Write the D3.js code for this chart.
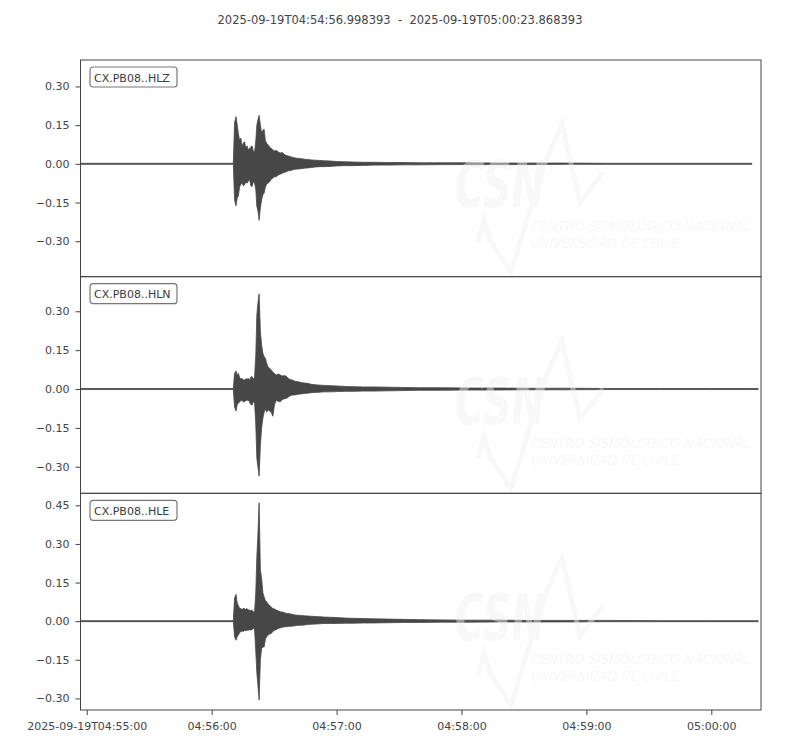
<!DOCTYPE html>
<html>
<head>
<meta charset="utf-8">
<script src="https://cdn.jsdelivr.net/npm/d3@7"></script>
<style>
    body { margin: 0; background: #ffffff; }
    svg { font-family: "DejaVu Sans", sans-serif; }
</style>
</head>
<body>
<div id="root"></div>
<script>
// ---------------------------- DATA ----------------------------
const channels = ["CX.PB08..HLZ", "CX.PB08..HLN", "CX.PB08..HLE"];
const startTime = "2025-09-19T04:54:56.998393";
const endTime = "2025-09-19T05:00:23.868393";
const traceEnds = [319.5, 322.5, 322.5]; // seconds after 04:55:00 where each trace stops
const yLimits = [[-0.4375, 0.4026], [-0.4026, 0.4336], [-0.345, 0.4965]];
const yTicks = [
    [-0.30, -0.15, 0, 0.15, 0.30],
    [-0.30, -0.15, 0, 0.15, 0.30],
    [-0.30, -0.15, 0, 0.15, 0.30, 0.45]
];

// Seconds after 04:55:00, and the max / min of each trace around that time
const seconds = [
    -3.0, 70.4, 71.0, 71.7, 72.3, 72.8, 73.4, 74.0, 74.6, 75.2,
    75.8, 76.4, 77.0, 77.6, 78.2, 78.8, 79.4, 80.0, 80.6, 81.2,
    81.7, 82.2, 82.8, 83.4, 84.0, 84.6, 85.2, 85.8, 86.4, 87.0,
    87.8, 88.6, 89.4, 90.2, 91.0, 92.0, 93.0, 94.0, 95.0, 96.0,
    97.0, 98.0, 99.0, 100.0, 101.5, 103.0, 104.5, 106.0, 108.0, 110.0,
    112, 114, 117, 120, 124, 128, 133, 138, 145, 152,
    160, 170, 182, 196, 212, 230, 250, 275, 300, 319.5, 322.5
];
const hlzHigh = [
    0.002, 0.002, 0.16, 0.183, 0.15, 0.12, 0.09, 0.10, 0.07, 0.08,
    0.086, 0.06, 0.07, 0.054, 0.06, 0.065, 0.07, 0.05, 0.045, 0.09,
    0.15, 0.17, 0.188, 0.15, 0.12, 0.13, 0.134, 0.09, 0.08, 0.075,
    0.065, 0.06, 0.054, 0.05, 0.052, 0.046, 0.042, 0.044, 0.036, 0.032,
    0.03, 0.027, 0.025, 0.023, 0.021, 0.02, 0.018, 0.017, 0.015, 0.014,
    0.013, 0.012, 0.011, 0.009, 0.008, 0.007, 0.006, 0.006, 0.005, 0.005,
    0.004, 0.004, 0.004, 0.003, 0.003, 0.003, 0.002, 0.002, 0.002, 0.002, 0.002
];
const hlzLow = [
    -0.002, -0.002, -0.14, -0.163, -0.13, -0.127, -0.09, -0.08, -0.074, -0.085,
    -0.081, -0.07, -0.075, -0.068, -0.06, -0.085, -0.088, -0.07, -0.074, -0.10,
    -0.165, -0.18, -0.219, -0.17, -0.139, -0.12, -0.113, -0.09, -0.08, -0.075,
    -0.07, -0.06, -0.055, -0.05, -0.05, -0.043, -0.04, -0.036, -0.034, -0.03,
    -0.027, -0.026, -0.023, -0.021, -0.02, -0.019, -0.017, -0.016, -0.014, -0.012,
    -0.011, -0.011, -0.01, -0.008, -0.007, -0.007, -0.006, -0.005, -0.005, -0.004,
    -0.004, -0.003, -0.003, -0.003, -0.003, -0.002, -0.002, -0.002, -0.002, -0.002, -0.002
];
const hlnHigh = [
    0.002, 0.002, 0.06, 0.07, 0.05, 0.061, 0.045, 0.04, 0.041, 0.035,
    0.035, 0.04, 0.038, 0.041, 0.035, 0.045, 0.048, 0.04, 0.045, 0.132,
    0.286, 0.33, 0.367, 0.222, 0.17, 0.138, 0.125, 0.119, 0.10, 0.086,
    0.08, 0.074, 0.065, 0.06, 0.054, 0.058, 0.054, 0.05, 0.052, 0.048,
    0.04, 0.036, 0.034, 0.03, 0.028, 0.025, 0.023, 0.022, 0.018, 0.016,
    0.015, 0.014, 0.013, 0.012, 0.01, 0.009, 0.008, 0.008, 0.007, 0.006,
    0.005, 0.005, 0.004, 0.004, 0.003, 0.003, 0.002, 0.002, 0.002, 0.002, 0.002
];
const hlnLow = [
    -0.002, -0.002, -0.07, -0.085, -0.06, -0.055, -0.05, -0.045, -0.043, -0.05,
    -0.049, -0.045, -0.043, -0.043, -0.05, -0.06, -0.062, -0.05, -0.05, -0.139,
    -0.267, -0.30, -0.336, -0.217, -0.15, -0.113, -0.09, -0.075, -0.09, -0.08,
    -0.085, -0.09, -0.105, -0.06, -0.043, -0.048, -0.049, -0.04, -0.038, -0.036,
    -0.03, -0.025, -0.023, -0.023, -0.02, -0.019, -0.017, -0.016, -0.014, -0.013,
    -0.012, -0.011, -0.011, -0.01, -0.009, -0.009, -0.008, -0.008, -0.007, -0.006,
    -0.005, -0.005, -0.004, -0.004, -0.003, -0.003, -0.002, -0.002, -0.002, -0.002, -0.002
];
const hleHigh = [
    0.002, 0.002, 0.09, 0.104, 0.07, 0.062, 0.05, 0.049, 0.045, 0.05,
    0.049, 0.045, 0.049, 0.043, 0.043, 0.04, 0.043, 0.036, 0.036, 0.114,
    0.25, 0.334, 0.46, 0.20, 0.166, 0.11, 0.094, 0.08, 0.075, 0.068,
    0.062, 0.055, 0.049, 0.047, 0.043, 0.04, 0.036, 0.036, 0.033, 0.03,
    0.03, 0.028, 0.026, 0.024, 0.023, 0.022, 0.021, 0.02, 0.019, 0.018,
    0.017, 0.016, 0.015, 0.014, 0.012, 0.011, 0.01, 0.009, 0.008, 0.007,
    0.006, 0.005, 0.004, 0.004, 0.003, 0.003, 0.003, 0.002, 0.002, 0.002, 0.002
];
const hleLow = [
    -0.002, -0.002, -0.06, -0.074, -0.06, -0.054, -0.045, -0.041, -0.038, -0.04,
    -0.035, -0.037, -0.035, -0.035, -0.033, -0.035, -0.032, -0.028, -0.03, -0.119,
    -0.20, -0.248, -0.306, -0.15, -0.106, -0.10, -0.10, -0.07, -0.061, -0.055,
    -0.05, -0.048, -0.04, -0.035, -0.033, -0.028, -0.026, -0.024, -0.022, -0.022,
    -0.02, -0.02, -0.019, -0.018, -0.016, -0.016, -0.015, -0.013, -0.012, -0.011,
    -0.01, -0.009, -0.009, -0.009, -0.008, -0.008, -0.007, -0.007, -0.006, -0.005,
    -0.005, -0.004, -0.004, -0.003, -0.003, -0.003, -0.002, -0.002, -0.002, -0.002, -0.002
];
const highs = [hlzHigh, hlnHigh, hleHigh];
const lows = [hlzLow, hlnLow, hleLow];

// ---------------------------- LAYOUT ----------------------------
const width = 800;
const height = 750;
const plotLeft = 80.5;
const plotRight = 761;
const plotTop = 60;
const plotBottom = 710;
const panelHeight = (plotBottom - plotTop) / channels.length;
const traceColour = "#474747";
const axisColour = "#444444";
const markColour = "#f0f0f0";

const baseTime = Date.UTC(2025, 8, 19, 4, 55, 0);
const toDate = s => new Date(baseTime + s * 1000);

const svg = d3.select("#root")
    .append("svg")
    .attr("width", width)
    .attr("height", height);

const x = d3.scaleUtc()
    .domain([new Date(startTime.slice(0, 23) + "Z"), new Date(endTime.slice(0, 23) + "Z")])
    .range([plotLeft, plotRight]);

// Title with the time window
svg.append("text")
    .attr("x", width / 2)
    .attr("y", 24)
    .attr("text-anchor", "middle")
    .style("font-size", "11.5px")
    .style("fill", "#444")
    .style("white-space", "pre")
    .text(startTime + "  -  " + endTime);

// ---------------------------- PANELS ----------------------------
channels.forEach((name, i) => {
    const y0 = plotTop + i * panelHeight;
    const y = d3.scaleLinear()
        .domain(yLimits[i])
        .range([y0 + panelHeight, y0]);

    const panel = svg.append("g").attr("class", "panel");

    // Waveform envelope (max / min per time step)
    const points = seconds
        .map((s, j) => ({ t: toDate(s), s: s, hi: highs[i][j], lo: lows[i][j] }))
        .filter(d => d.s <= traceEnds[i]);

    const area = d3.area()
        .x(d => x(d.t))
        .y0(d => y(d.lo))
        .y1(d => y(d.hi));

    panel.append("path")
        .datum(points)
        .attr("d", area)
        .style("fill", traceColour)
        .style("stroke", traceColour)
        .style("stroke-width", 0.8)
        .style("stroke-linejoin", "round");

    // Faint CSN watermark, drawn over the trace
    const mark = panel.append("g")
        .attr("transform", "translate(0," + y0 + ")")
        .style("opacity", 0.45);
    mark.append("polyline")
        .attr("points", "478,182 484,160 490,180 511,212 530,150 546,100 562,64 580,143 603,112")
        .style("fill", "none")
        .style("stroke", markColour)
        .style("stroke-width", 5);
    mark.append("text")
        .attr("x", 455)
        .attr("y", 147)
        .attr("textLength", 90)
        .attr("lengthAdjust", "spacingAndGlyphs")
        .style("font-size", "64px")
        .style("font-weight", "bold")
        .style("font-style", "italic")
        .style("fill", markColour)
        .text("CSN");
    mark.append("text")
        .attr("x", 531)
        .attr("y", 171)
        .attr("textLength", 220)
        .attr("lengthAdjust", "spacingAndGlyphs")
        .style("font-size", "14px")
        .style("font-style", "italic")
        .style("fill", markColour)
        .text("CENTRO SISMOLÓGICO NACIONAL");
    mark.append("text")
        .attr("x", 531)
        .attr("y", 188)
        .attr("textLength", 148)
        .attr("lengthAdjust", "spacingAndGlyphs")
        .style("font-size", "14px")
        .style("font-style", "italic")
        .style("fill", markColour)
        .text("UNIVERSIDAD DE CHILE");

    // Y axis
    const yAxis = panel.append("g")
        .attr("transform", "translate(" + plotLeft + ",0)")
        .call(d3.axisLeft(y)
            .tickValues(yTicks[i])
            .tickFormat(d3.format(".2f"))
            .tickSize(5)
            .tickPadding(6));
    yAxis.select(".domain").remove();
    yAxis.selectAll("line").style("stroke", axisColour);
    yAxis.selectAll("text")
        .style("font-family", "DejaVu Sans")
        .style("font-size", "11px")
        .style("fill", axisColour);

    // Frame
    panel.append("rect")
        .attr("x", plotLeft)
        .attr("y", y0)
        .attr("width", plotRight - plotLeft)
        .attr("height", panelHeight)
        .style("fill", "none")
        .style("stroke", axisColour)
        .style("stroke-width", 1);

    // Channel label box
    const label = panel.append("g")
        .attr("transform", "translate(90," + (y0 + 7) + ")");
    label.append("rect")
        .attr("width", 87)
        .attr("height", 20)
        .attr("rx", 3)
        .style("fill", "#ffffff")
        .style("stroke", "#777777")
        .style("stroke-width", 1.2);
    label.append("text")
        .attr("x", 4)
        .attr("y", 14.5)
        .style("font-size", "11px")
        .style("fill", "#3a3a3a")
        .text(name);
});

// ---------------------------- TIME AXIS ----------------------------
const timeFormat = d3.utcFormat("%H:%M:%S");
const xAxis = svg.append("g")
    .attr("transform", "translate(0," + plotBottom + ")")
    .call(d3.axisBottom(x)
        .ticks(d3.utcMinute.every(1))
        .tickFormat((d, i) => i === 0 ? d3.utcFormat("%Y-%m-%dT%H:%M:%S")(d) : timeFormat(d))
        .tickSize(5)
        .tickPadding(7));
xAxis.select(".domain").remove();
xAxis.selectAll("line").style("stroke", axisColour);
xAxis.selectAll("text")
    .style("font-family", "DejaVu Sans")
    .style("font-size", "11px")
    .style("fill", axisColour);
</script>
</body>
</html>
